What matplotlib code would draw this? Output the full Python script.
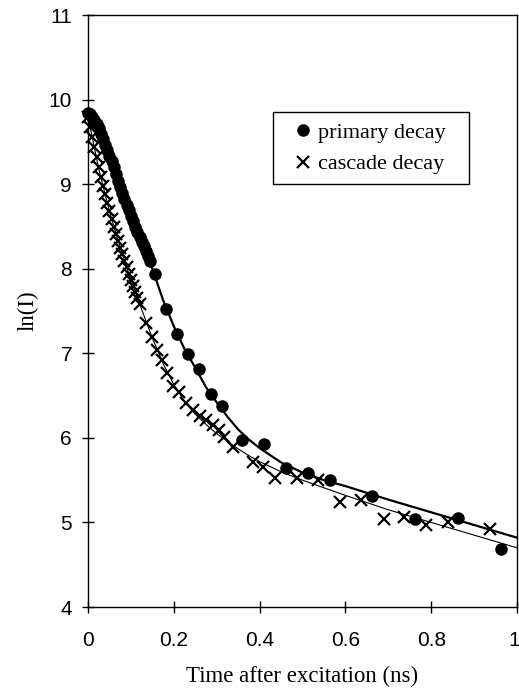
import numpy as np
import matplotlib
matplotlib.use("Agg")
import matplotlib.pyplot as plt
import matplotlib.transforms as mtransforms

# primary decay (dots)
primary_t = [0.000, 0.005, 0.010, 0.015, 0.020, 0.025, 0.030, 0.035, 0.040, 0.045,
             0.050, 0.055, 0.060, 0.065, 0.070, 0.075, 0.080, 0.085, 0.090, 0.095,
             0.100, 0.105, 0.110, 0.115, 0.120, 0.125, 0.130, 0.135, 0.140, 0.145,
             0.157, 0.181, 0.208, 0.233, 0.259, 0.286, 0.312, 0.360, 0.410, 0.462,
             0.513, 0.563, 0.662, 0.762, 0.863, 0.963]
primary_ln = [9.84, 9.83, 9.80, 9.76, 9.71, 9.66, 9.60, 9.54, 9.47, 9.41,
              9.34, 9.27, 9.20, 9.12, 9.04, 8.97, 8.90, 8.83, 8.76, 8.70,
              8.63, 8.56, 8.50, 8.44, 8.38, 8.32, 8.27, 8.21, 8.15, 8.09,
              7.94, 7.52, 7.23, 6.99, 6.82, 6.52, 6.38, 5.98, 5.93, 5.64,
              5.58, 5.50, 5.31, 5.04, 5.05, 4.69]

# cascade decay (crosses)
cascade_t = [0.000, 0.005, 0.010, 0.015, 0.020, 0.025, 0.030, 0.035, 0.040, 0.045,
             0.050, 0.055, 0.060, 0.065, 0.070, 0.075, 0.080, 0.085, 0.090, 0.095,
             0.100, 0.105, 0.110, 0.115, 0.121, 0.135, 0.149, 0.160, 0.172, 0.184,
             0.198, 0.211, 0.228, 0.245, 0.260, 0.276, 0.292, 0.305, 0.318, 0.337,
             0.384, 0.407, 0.435, 0.486, 0.535, 0.588, 0.636, 0.690, 0.737, 0.788,
             0.840, 0.937]
cascade_ln = [9.80, 9.68, 9.56, 9.44, 9.32, 9.20, 9.09, 8.98, 8.88, 8.78,
              8.68, 8.59, 8.50, 8.41, 8.33, 8.25, 8.17, 8.09, 8.02, 7.94,
              7.87, 7.80, 7.72, 7.65, 7.58, 7.36, 7.19, 7.04, 6.92, 6.77,
              6.61, 6.54, 6.41, 6.33, 6.26, 6.21, 6.15, 6.09, 6.01, 5.89,
              5.71, 5.66, 5.53, 5.53, 5.50, 5.24, 5.26, 5.04, 5.06, 4.97,
              5.00, 4.92]

# fitted curves
fit_t = [0.0, 0.025, 0.05, 0.075, 0.1, 0.125, 0.15, 0.175, 0.2, 0.225, 0.25,
         0.275, 0.3, 0.325, 0.35, 0.375, 0.4, 0.45, 0.5, 0.55, 0.6, 0.7, 0.8, 0.9, 1.0]
primary_fit = [9.84, 9.66, 9.34, 8.97, 8.63, 8.32, 8.00, 7.63, 7.32, 7.05, 6.83,
               6.60, 6.42, 6.25, 6.10, 5.98, 5.88, 5.71, 5.59, 5.50, 5.43, 5.27,
               5.12, 4.97, 4.82]
cascade_fit = [9.80, 9.18, 8.68, 8.25, 7.87, 7.52, 7.18, 6.88, 6.63, 6.43, 6.28,
               6.16, 6.05, 5.96, 5.87, 5.79, 5.72, 5.60, 5.50, 5.41, 5.32, 5.15,
               5.00, 4.85, 4.70]

serif = "Liberation Serif"
sans = "Liberation Sans"

fig = plt.figure(figsize=(5.19, 6.89), dpi=100)
ax = fig.add_axes([0.1696, 0.119, 0.8266, 0.859])

ax.plot(fit_t, primary_fit, color="black", lw=1.6, zorder=2)
ax.plot(fit_t, cascade_fit, color="black", lw=0.8, zorder=2)
ax.plot(primary_t, primary_ln, "o", color="black", ms=8, label="primary decay",
        zorder=3, clip_on=False)
ax.plot(cascade_t, cascade_ln, "x", color="black", ms=8.5, mew=1.6,
        label="cascade decay", zorder=3, clip_on=False)

ax.set_xlim(0, 1)
ax.set_ylim(4, 11)
ax.set_xticks([0, 0.2, 0.4, 0.6, 0.8, 1])
ax.set_xticklabels(["0", "0.2", "0.4", "0.6", "0.8", "1"])
ax.set_yticks(range(4, 12))
ax.tick_params(direction="inout", length=9, width=1, labelsize=15)
ax.tick_params(axis="x", pad=13)
ax.tick_params(axis="y", pad=7)
for lab in ax.get_xticklabels() + ax.get_yticklabels():
    lab.set_fontfamily(sans)
# keep the "1" at the right end inside the figure
last = ax.get_xticklabels()[-1]
last.set_transform(last.get_transform() +
                   mtransforms.ScaledTranslation(-3 / 100, 0, fig.dpi_scale_trans))
for s in ax.spines.values():
    s.set_linewidth(1)

ax.set_xlabel("Time after excitation (ns)", fontsize=16.5, family=serif, labelpad=11)
ax.set_ylabel("ln(I)", fontsize=16.5, family=serif, labelpad=7.5)

leg = ax.legend(loc="upper left", bbox_to_anchor=(0.431, 0.7145, 0.457, 0.1215),
                mode="expand", borderaxespad=0,
                prop={"family": serif, "size": 16}, handlelength=1.8,
                handletextpad=-0.22, borderpad=0.45, labelspacing=0.5,
                fancybox=False, framealpha=1, edgecolor="black")
leg.get_frame().set_linewidth(1)

fig.savefig("out.png", dpi=100)
